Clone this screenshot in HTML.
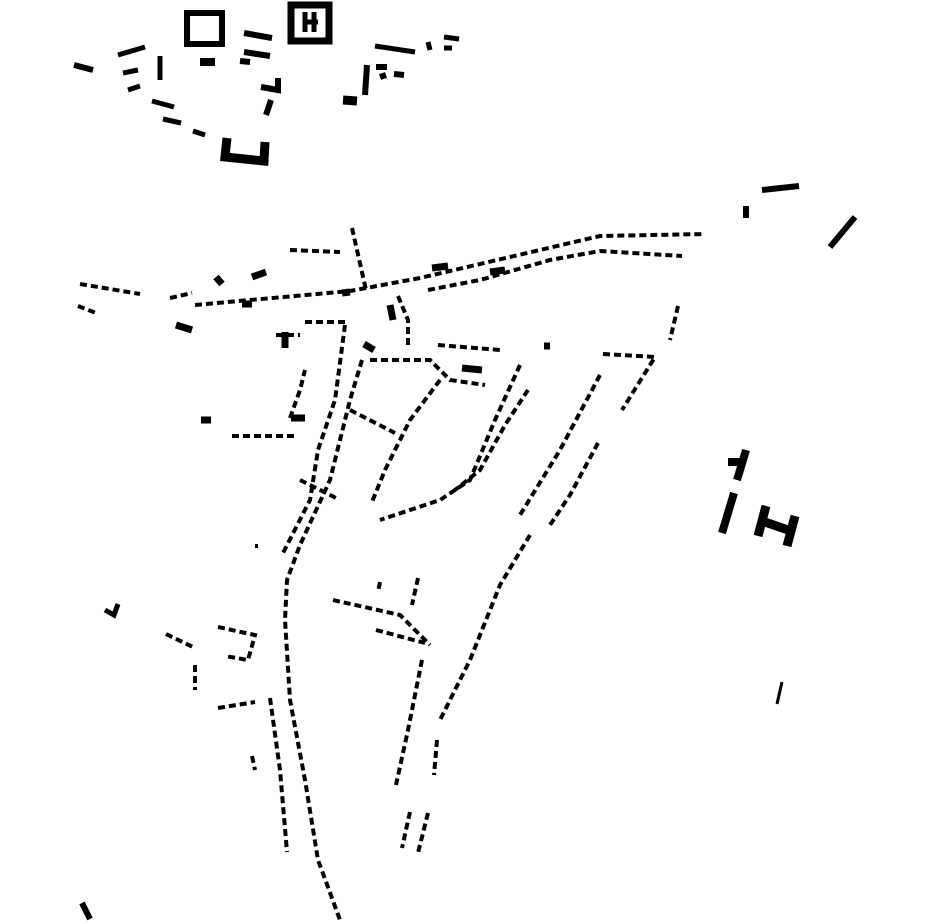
<!DOCTYPE html>
<html><head><meta charset="utf-8"><style>html,body{margin:0;padding:0;background:#fff;width:930px;height:924px;overflow:hidden}</style></head>
<body>
<svg width="930" height="924" viewBox="0 0 930 924" xmlns="http://www.w3.org/2000/svg">
<g fill="none" stroke="#000" stroke-linecap="butt" stroke-linejoin="miter">
<rect x="187" y="13" width="35" height="31" stroke-width="6"/>
<rect x="291" y="5" width="38" height="36" stroke-width="7"/>
<path d="M305 12 L305 32 M314 12 L314 32 M303 22 L318 22" stroke-width="5"/>
<path d="M227 138 L225 157 L264 161 L265 142" stroke-width="9"/>
<path d="M74 65 L93 70" stroke-width="6"/>
<path d="M118 55 L145 47 M123 73 L138 70 M128 90 L140 86 M160 56 L160 80 M152 101 L174 107 M163 119 L181 123 M193 131 L205 135" stroke-width="5"/>
<path d="M200 62 L215 62" stroke-width="8"/>
<path d="M244 33 L272 38 M244 52 L270 56 M240 61 L250 62 M261 87 L278 90 L278 78 M266 115 L271 100" stroke-width="6"/>
<path d="M375 46 L415 52 M428 42 L430 50 M444 37 L459 39 M444 48 L452 48" stroke-width="5"/>
<path d="M367 65 L365 95 M376 67 L387 67 M380 77 L386 75 M394 74 L404 75" stroke-width="6"/>
<path d="M343 100 L357 101" stroke-width="9"/>
<path d="M762 190 L799 186 M746 206 L746 218 M830 247 L855 217" stroke-width="6"/>
<path d="M728 462 L742 462 M746 450 L737 480" stroke-width="8"/>
<path d="M734 493 L722 533" stroke-width="8"/>
<path d="M766 506 L758 536 M795 516 L787 546 M762 521 L791 531" stroke-width="9"/>
<path d="M782 682 L777 704" stroke-width="3"/>
<path d="M82 903 L90 919" stroke-width="6"/>
<path d="M105 610 L114 615 L118 604" stroke-width="5"/>
<g stroke-width="4" stroke-dasharray="7 4">
<path d="M80 284 L140 294"/>
<path d="M78 306 L96 313"/>
<path d="M170 298 L192 293"/>
<path d="M195 305 L350 291 L420 278 L600 236 L705 234"/>
<path d="M428 290 L480 280 L550 260 L600 251 L682 256"/>
<path d="M290 250 L340 252"/>
<path d="M352 228 L366 290"/>
<path d="M398 296 L408 320 L408 345"/>
<path d="M678 306 L670 340"/>
<path d="M362 360 L350 400 L330 480 L300 545 L287 580 L285 620 L290 700 L305 780 L318 860 L340 920"/>
<path d="M345 325 L335 400 L318 450 L310 500 L282 555"/>
<path d="M520 365 L495 420 L470 480 L440 500 L380 520"/>
<path d="M528 390 L505 425 L480 470 L455 490"/>
<path d="M440 380 L410 420 L385 470 L372 502"/>
<path d="M370 360 L430 360 L450 380 L485 385"/>
<path d="M438 345 L500 350"/>
<path d="M603 354 L655 357 L622 410"/>
<path d="M600 375 L560 450 L520 515"/>
<path d="M598 443 L570 495 L550 525"/>
<path d="M530 535 L500 585 L470 660 L440 720"/>
<path d="M270 698 L280 770 L287 852"/>
<path d="M422 660 L408 730 L396 785"/>
<path d="M437 740 L434 775"/>
<path d="M428 813 L418 853"/>
<path d="M410 812 L402 848"/>
<path d="M333 600 L400 615 L430 645"/>
<path d="M376 630 L425 643"/>
<path d="M418 578 L412 605"/>
<path d="M232 436 L295 436"/>
<path d="M166 634 L195 648"/>
<path d="M218 627 L255 635 L248 660 L225 656"/>
<path d="M195 665 L195 690"/>
<path d="M218 708 L255 702"/>
<path d="M252 756 L255 770"/>
<path d="M350 410 L395 433"/>
<path d="M290 418 L300 390 L305 370"/>
<path d="M305 322 L345 322"/>
<path d="M276 335 L300 335"/>
<path d="M300 480 L336 498"/>
<path d="M380 582 L378 592"/>
<path d="M255 546 L258 546"/>
</g>
<path d="M201 420 L211 420 M285 332 L285 348 M364 344 L374 350 M544 346 L550 346 M342 293 L350 292 M216 277 L222 284 M252 277 L266 272 M176 325 L192 330 M242 304 L252 304 M390 305 L393 320 M291 418 L305 418 M462 368 L482 370 M432 268 L448 266 M490 272 L505 270" stroke-width="7"/>
</g>
</svg>
</body></html>
